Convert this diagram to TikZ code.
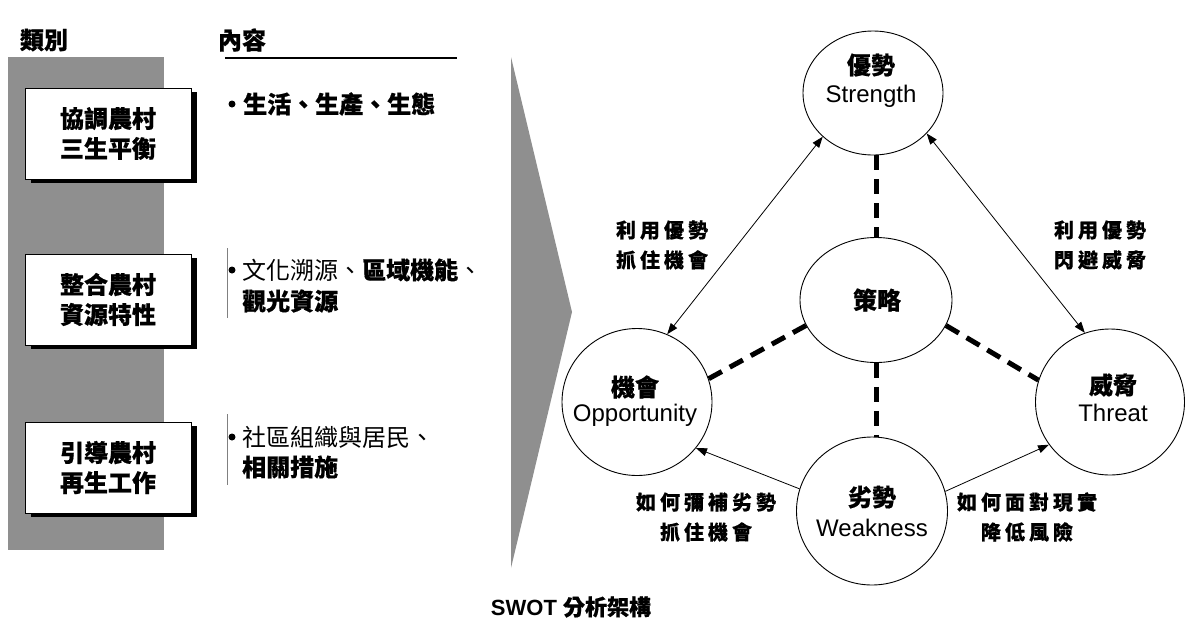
\documentclass[tikz,border=0pt]{standalone}
\usepackage{fontspec}
\setmainfont{Liberation Sans}
\newfontfamily\cjk{Noto Sans CJK TC}[BoldFeatures={FakeBold=0.6}]
\newfontfamily\cjksp{Noto Sans CJK TC}[LetterSpace=20,BoldFeatures={FakeBold=0.4}]
\usetikzlibrary{shapes.geometric,arrows.meta}
\definecolor{panel}{RGB}{143,143,143}
\begin{document}
\begin{tikzpicture}[x=1pt,y=-1pt,
  ring/.style={draw,ellipse,line width=0.9pt,inner sep=0pt,fill=white},
  cjkb/.style={font={\cjk\bfseries\fontsize{24}{30}\selectfont},inner sep=0pt},
  cjkr/.style={font={\cjk\fontsize{24}{30}\selectfont},inner sep=0pt},
  en/.style={font={\fontsize{24}{24}\selectfont},inner sep=0pt},
  note/.style={font={\cjksp\bfseries\fontsize{20}{30}\selectfont},inner sep=0pt,align=center},
  catbox/.style={draw,line width=1pt,fill=white,minimum width=166pt,minimum height=91pt,inner sep=0pt,align=center,font={\cjk\bfseries\fontsize{24}{30}\selectfont}},
  shade/.style={fill=black,minimum width=166pt,minimum height=91pt,inner sep=0pt},
  tip/.style={{Triangle[length=11pt,width=8pt]}-{Triangle[length=11pt,width=8pt]},line width=0.8pt},
  onetip/.style={-{Triangle[length=11pt,width=8pt]},line width=0.8pt},
  dashy/.style={line width=5pt,dash pattern=on 15pt off 9pt},
  dot/.style={circle,fill=black,inner sep=0pt,minimum size=7pt}
]
\useasboundingbox (0,0) rectangle (1187,625);
% panel and chevron
\fill[panel] (8,57) rectangle (164,550);
\fill[panel] (511,57) -- (572,312) -- (511,568) -- cycle;
% headers
\node[cjkb] (h1) at (44,40) {類別};
\node[cjkb] (h2) at (242,40) {內容};
\draw[line width=1.4pt] (225,58) -- (457,58);
% category boxes
\node[shade] (s1) at (114,137.5) {};
\node[catbox] (b1) at (108,133.5) {協調農村\\三生平衡};
\node[shade] (s2) at (114,303.5) {};
\node[catbox] (b2) at (108,299.5) {整合農村\\資源特性};
\node[shade] (s3) at (114,471.5) {};
\node[catbox] (b3) at (108,467.5) {引導農村\\再生工作};
% content items
\node[dot] (d1) at (232,104) {};
\node[cjkb,anchor=west] (t1) at (243,104) {生活、生產、生態};
\draw[gray,line width=1pt] (227,248) -- (227,318);
\node[dot] (d2) at (232,270) {};
\node[cjkr,anchor=west] (t2a) at (242,270) {文化溯源、{\bfseries 區域機能}、};
\node[cjkb,anchor=west] (t2b) at (242,301) {觀光資源};
\draw[gray,line width=1pt] (227,414) -- (227,485);
\node[dot] (d3) at (232,437) {};
\node[cjkr,anchor=west] (t3a) at (242,437) {社區組織與居民、};
\node[cjkb,anchor=west] (t3b) at (242,467) {相關措施};
% SWOT circles
\node[ring,minimum width=140pt,minimum height=124pt] (S) at (873,93) {};
\node[ring,minimum width=152pt,minimum height=125pt] (C) at (876,300) {};
\node[ring,minimum width=150pt,minimum height=147pt] (O) at (637,402) {};
\node[ring,minimum width=149pt,minimum height=146pt] (T) at (1110,402) {};
\node[ring,minimum width=151pt,minimum height=148pt] (W) at (872,511) {};
% circle texts
\node[cjkb] (S1) at (871,65) {優勢};
\node[en] (S2) at (871,96) {Strength};
\node[cjkb] (C1) at (877,300) {策略};
\node[cjkb] (O1) at (635,387) {機會};
\node[en] (O2) at (635,415) {Opportunity};
\node[cjkb] (T1) at (1113,385) {威脅};
\node[en] (T2) at (1113,413) {Threat};
\node[cjkb] (W1) at (872,497) {劣勢};
\node[en] (W2) at (872,528) {Weakness};
% dashed links
\draw[dashy] (S.south -| C.north) -- (C.north);
\draw[dashy] (C.south) -- (W.north -| C.south);
\draw[dashy] (C.200) -- (O.18);
\draw[dashy] (C.340) -- (T.163);
% arrows
\draw[tip] (S.221) -- (O.66);
\draw[tip] (S.323) -- (T.110);
\draw[onetip] (W.163) -- (O.322);
\draw[onetip] (W.15) -- (T.215);
% labels
\node[note] (L1) at (662,245) {利用優勢\\抓住機會};
\node[note] (L2) at (1100,245) {利用優勢\\閃避威脅};
\node[note] (L3) at (706,517) {如何彌補劣勢\\抓住機會};
\node[note] (L4) at (1027,517) {如何面對現實\\降低風險};
% caption
\node[inner sep=0pt,font={\bfseries\fontsize{22}{22}\selectfont}] (cap) at (571,607) {SWOT {\cjk 分析架構}};
\end{tikzpicture}
\end{document}
